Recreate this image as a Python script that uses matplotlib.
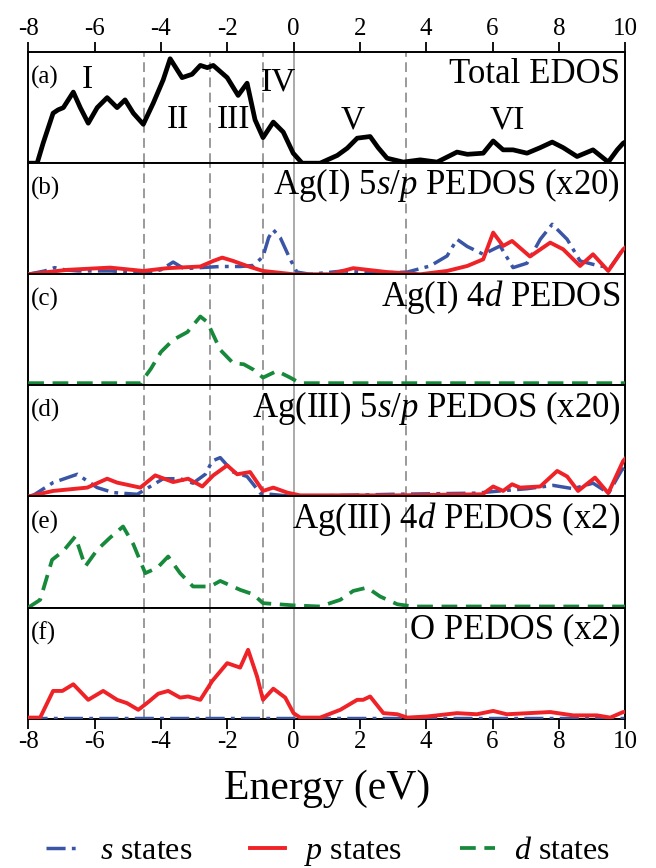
import matplotlib
matplotlib.use("Agg")
import matplotlib.pyplot as plt
from matplotlib.lines import Line2D

plt.rcParams['font.family'] = ['Liberation Serif', 'DejaVu Serif']
plt.rcParams['mathtext.fontset'] = 'custom'
plt.rcParams['mathtext.rm'] = 'Liberation Serif'
plt.rcParams['mathtext.it'] = 'Liberation Serif:italic'
plt.rcParams['axes.unicode_minus'] = False
plt.rcParams['lines.solid_joinstyle'] = 'round'
plt.rcParams['lines.dash_joinstyle'] = 'round'

# (a) total EDOS
tot_e = [-8.0, -7.73, -7.55, -7.25, -7.10, -6.94, -6.64, -6.43, -6.19, -5.92, -5.62, -5.32, -5.08,
         -4.83, -4.53, -4.23, -3.93, -3.72, -3.36, -3.06, -2.81, -2.60, -2.42, -2.00, -1.67, -1.40,
         -1.16, -0.92, -0.61, -0.31, -0.01, 0.26, 0.5, 0.80, 1.32, 1.62, 1.92, 2.31, 2.55, 2.82,
         3.31, 3.82, 4.33, 4.93, 5.24, 5.72, 6.02, 6.32, 6.62, 7.04, 7.44, 7.80, 8.13, 8.55, 9.03,
         9.49, 9.76, 9.94, 10.0]
tot_v = [0.0, 0.0, 0.18, 0.45, 0.48, 0.50, 0.64, 0.50, 0.36, 0.50, 0.59, 0.50, 0.57,
         0.45, 0.35, 0.54, 0.75, 0.94, 0.77, 0.80, 0.88, 0.86, 0.88, 0.77, 0.61, 0.72,
         0.39, 0.23, 0.37, 0.28, 0.09, 0.0, 0.0, 0.0, 0.07, 0.135, 0.225, 0.24, 0.14, 0.045,
         0.01, 0.03, 0.01, 0.10, 0.08, 0.09, 0.20, 0.12, 0.12, 0.09, 0.14, 0.19, 0.14, 0.06, 0.12,
         0.01, 0.12, 0.18, 0.19]

# (b) Ag(I) 5s/p x20
b_s_e = [-8.0, -7.5, -7.2, -6.9, -6.5, -5.5, -4.5, -4.0, -3.63, -3.3, -2.8, -2.21, -1.6, -1.2,
         -0.92, -0.75, -0.61, -0.4, -0.1, 0.1, 0.5, 1.5, 2.5, 3.43, 4.12, 4.63, 4.93, 5.24, 5.72,
         6.23, 6.62, 7.04, 7.44, 7.80, 8.25, 8.64, 9.15, 9.55, 9.9, 10.0]
b_s_v = [0.0, 0.03, 0.06, 0.04, 0.03, 0.03, 0.01, 0.04, 0.11, 0.05, 0.06, 0.07, 0.07, 0.08,
         0.16, 0.33, 0.40, 0.33, 0.135, 0.02, 0.0, 0.03, 0.01, 0.02, 0.075, 0.165, 0.315, 0.25, 0.18,
         0.255, 0.06, 0.10, 0.315, 0.45, 0.315, 0.12, 0.08, 0.06, 0.21, 0.23]
b_p_e = [-8.0, -6.82, -5.53, -4.53, -3.81, -2.81, -2.42, -2.15, -1.82, -1.40, -0.92, 0.0, 1.1,
         1.80, 2.82, 3.82, 4.63, 5.24, 5.72, 6.02, 6.32, 6.59, 7.13, 7.74, 8.13, 8.64, 9.03, 9.49,
         9.94, 10.0]
b_p_v = [0.0, 0.04, 0.06, 0.03, 0.055, 0.07, 0.12, 0.15, 0.12, 0.075, 0.03, 0.0, 0.0,
         0.055, 0.02, 0.0, 0.03, 0.075, 0.135, 0.375, 0.255, 0.30, 0.16, 0.285, 0.225, 0.075, 0.18,
         0.03, 0.225, 0.24]

# (c) Ag(I) 4d
c_d_e = [-8.0, -4.6, -4.53, -4.3, -4.0, -3.63, -3.2, -2.81, -2.6, -2.21, -1.82, -1.5, -1.2,
         -0.92, -0.5, -0.1, 0.2, 10.0]
c_d_v = [0.02, 0.02, 0.055, 0.15, 0.30, 0.41, 0.48, 0.62, 0.57, 0.32, 0.20, 0.19, 0.14,
         0.07, 0.13, 0.07, 0.02, 0.02]

# (d) Ag(III) 5s/p x20
d_s_e = [-8.0, -7.85, -7.25, -6.52, -5.92, -5.43, -4.71, -4.32, -3.93, -3.42, -3.03, -2.66,
         -2.45, -2.21, -1.82, -1.40, -1.0, -0.7, 0.0, 3.0, 5.5, 6.23, 7.04, 7.83, 8.43, 9.03,
         9.5, 9.9, 10.0]
d_s_v = [0.0, 0.01, 0.125, 0.20, 0.08, 0.035, 0.02, 0.09, 0.16, 0.16, 0.12, 0.20,
         0.32, 0.35, 0.22, 0.18, 0.03, 0.02, 0.0, 0.02, 0.03, 0.05, 0.07, 0.10, 0.07, 0.12,
         0.03, 0.24, 0.26]
d_p_e = [-8.0, -7.25, -6.22, -5.62, -5.32, -4.62, -4.17, -3.63, -3.18, -2.75, -2.42, -2.0,
         -1.7, -1.31, -0.92, -0.61, -0.19, 0.2, 3.0, 5.7, 6.02, 6.32, 6.59, 6.83, 7.44, 7.95,
         8.25, 8.58, 9.09, 9.49, 9.94, 10.0]
d_p_v = [0.0, 0.05, 0.08, 0.16, 0.125, 0.08, 0.19, 0.13, 0.16, 0.09, 0.19, 0.28,
         0.20, 0.22, 0.05, 0.08, 0.035, 0.01, 0.01, 0.02, 0.09, 0.05, 0.11, 0.08, 0.09, 0.23,
         0.18, 0.05, 0.17, 0.03, 0.32, 0.34]

# (e) Ag(III) 4d x2
e_d_e = [-8.0, -7.64, -7.28, -6.94, -6.58, -6.28, -5.92, -5.53, -5.14, -4.83, -4.47, -4.10,
         -3.78, -3.42, -3.03, -2.51, -2.21, -1.61, -1.22, -0.92, 0.0, 0.8, 1.41, 1.80, 2.22,
         2.61, 3.13, 3.6, 10.0]
e_d_v = [0.0, 0.07, 0.43, 0.51, 0.64, 0.37, 0.52, 0.63, 0.73, 0.57, 0.31, 0.36,
         0.46, 0.31, 0.19, 0.19, 0.24, 0.16, 0.12, 0.04, 0.02, 0.01, 0.07, 0.15, 0.18,
         0.10, 0.03, 0.01, 0.01]

# (f) O PEDOS x2
f_s_e = [-8.0, 10.0]
f_s_v = [0.005, 0.005]
f_p_e = [-8.0, -7.64, -7.25, -6.97, -6.64, -6.19, -5.74, -5.32, -5.02, -4.68, -4.38, -4.08,
         -3.78, -3.42, -3.18, -2.81, -2.45, -2.0, -1.61, -1.37, -1.10, -0.92, -0.61, -0.25,
         0.0, 0.2, 0.8, 1.41, 1.92, 2.1, 2.31, 2.71, 3.13, 3.43, 4.03, 4.93, 5.53, 6.02, 6.43,
         7.74, 8.43, 9.15, 9.55, 9.94, 10.0]
f_p_v = [0.01, 0.01, 0.25, 0.25, 0.31, 0.17, 0.25, 0.17, 0.14, 0.08, 0.15, 0.225,
         0.25, 0.19, 0.20, 0.17, 0.34, 0.50, 0.46, 0.62, 0.38, 0.17, 0.27, 0.19,
         0.05, 0.01, 0.01, 0.08, 0.17, 0.17, 0.20, 0.05, 0.04, 0.01, 0.02, 0.05, 0.04, 0.07, 0.04,
         0.06, 0.03, 0.03, 0.01, 0.06, 0.06]

panel_tags = ["(a)", "(b)", "(c)", "(d)", "(e)", "(f)"]
panel_titles = ["Total EDOS",
                "Ag(I) 5$s$/$p$ PEDOS (x20)",
                "Ag(I) 4$d$ PEDOS",
                "Ag(III) 5$s$/$p$ PEDOS (x20)",
                "Ag(III) 4$d$ PEDOS (x2)",
                "O PEDOS (x2)"]
regions = ["I", "II", "III", "IV", "V", "VI"]
region_x = [-6.22, -3.48, -1.82, -0.46, 1.77, 6.44]
region_y = [0.75, 0.39, 0.39, 0.73, 0.39, 0.39]
boundaries = [-4.52, -2.51, -0.93, 3.39]
xticks = [-8, -6, -4, -2, 0, 2, 4, 6, 8, 10]

blue = "#3a55a6"
red = "#ee2227"
green = "#17893b"
s_style = dict(color=blue, lw=2.5, dashes=[5.5, 1.8, 1.1, 1.8])
p_style = dict(color=red, lw=2.8, linestyle='-')
d_style = dict(color=green, lw=2.7, dashes=[4.2, 2.3])

fig, axes = plt.subplots(6, 1, figsize=(6.56, 8.68), dpi=100, sharex=True)
fig.subplots_adjust(left=0.043, right=0.953, top=0.940, bottom=0.172, hspace=0)

for ax in axes:
    for b in boundaries:
        ax.axvline(b, color="#9a9a9a", lw=1.4, dashes=[5, 2.8], zorder=1)
    ax.axvline(0, color="#aaaaaa", lw=1.4, zorder=1)

axes[0].plot(tot_e, tot_v, color="black", lw=3.4, zorder=3)
axes[1].plot(b_s_e, b_s_v, zorder=3, **s_style)
axes[1].plot(b_p_e, b_p_v, zorder=4, **p_style)
axes[2].plot(c_d_e, c_d_v, zorder=3, **d_style)
axes[3].plot(d_s_e, d_s_v, zorder=3, **s_style)
axes[3].plot(d_p_e, d_p_v, zorder=4, **p_style)
axes[4].plot(e_d_e, e_d_v, zorder=3, **d_style)
axes[5].plot(f_s_e, f_s_v, zorder=3, **s_style)
axes[5].plot(f_p_e, f_p_v, zorder=4, **p_style)

for i, ax in enumerate(axes):
    ax.set_xlim(-8, 10)
    ax.set_ylim(0, 1)
    ax.set_yticks([])
    for sp in ax.spines.values():
        sp.set_linewidth(1.4)
    ax.text(0.004, 0.77, panel_tags[i], transform=ax.transAxes, fontsize=18,
            ha="left", va="center")
    ax.text(0.992, 0.80, panel_titles[i], transform=ax.transAxes, fontsize=25,
            ha="right", va="center")
    ax.tick_params(axis="x", which="both", bottom=False, top=False,
                   labelbottom=False, labeltop=False)

for r, rx, ry in zip(regions, region_x, region_y):
    axes[0].text(rx, ry, r, fontsize=24, ha="center", va="center")

axes[0].set_xticks(xticks)
axes[0].tick_params(axis="x", top=True, labeltop=True, direction="out",
                    length=7, width=1.3, labelsize=18, pad=2)
axes[5].tick_params(axis="x", bottom=True, labelbottom=True, direction="out",
                    length=7, width=1.3, labelsize=18, pad=2)
axes[5].set_xlabel("Energy (eV)", fontsize=30, labelpad=12)

handles = [Line2D([], [], **s_style), Line2D([], [], **p_style), Line2D([], [], **d_style)]
labels = ["$s$ states", "$p$ states", "$d$ states"]
fig.legend(handles, labels, loc="center", bbox_to_anchor=(0.5, 0.018), ncol=3,
           frameon=False, fontsize=23, handlelength=1.1, handletextpad=0.6,
           columnspacing=1.8, borderaxespad=0)

fig.savefig("out.png", dpi=100)
